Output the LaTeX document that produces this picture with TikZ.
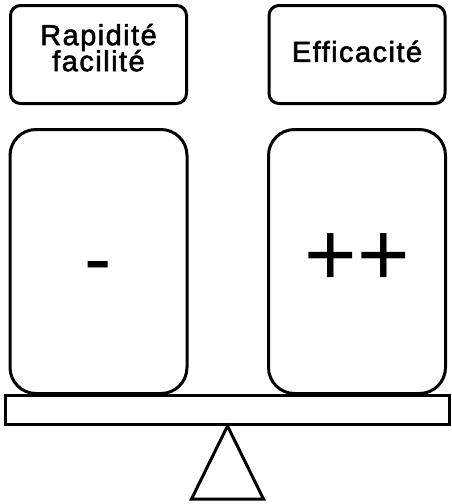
\documentclass[tikz,border=0pt]{standalone}
\usepackage{fontspec}
\setsansfont{Liberation Sans}[LetterSpace=5,FakeBold=2]
\newfontfamily\signfont{Liberation Sans}
\tikzset{every picture/.style={/utils/exec={\sffamily}}}
\usetikzlibrary{positioning}

\tikzset{
  tag/.style={draw, line width=3pt, rounded corners=10pt, minimum width=176pt,
    minimum height=98pt, inner sep=0pt, align=center,
    font={\fontsize{29}{26}\selectfont\lineskiplimit=-20pt\relax}},
  pan/.style={draw, line width=3pt, rounded corners=26pt, minimum width=177pt,
    minimum height=264pt, inner sep=0pt},
  sign/.style={anchor=base, inner sep=0pt, font=\signfont\fontsize{#1}{#1}\selectfont},
}

\begin{document}
\begin{tikzpicture}[x=1pt,y=-1pt]
  \useasboundingbox (0,0) rectangle (452,504);

  % criteria
  \node[tag, text depth=14pt] (speed) at (98.5,54.5) {Rapidité\\facilité};
  \node[tag, text depth=6.5pt] (effect) at (357,54.5) {Efficacité};

  % scale pans
  \node[pan, below=23pt of speed] (left) {};
  \node[pan, below=23pt of effect] (right) {};
  \node[sign=82, yshift=-25pt] (minus) at (left.center) {-};
  \node[sign=90, yshift=-24pt] (plus) at (right.center) {++};

  % beam and pivot
  \node[draw, line width=3pt, minimum width=444pt, minimum height=29pt,
    inner sep=0pt] (beam) at (227.5,410) {};
  \draw[line width=3pt] (beam.south) -- ++(-36,73) -- ++(72,0) -- cycle;
\end{tikzpicture}
\end{document}
